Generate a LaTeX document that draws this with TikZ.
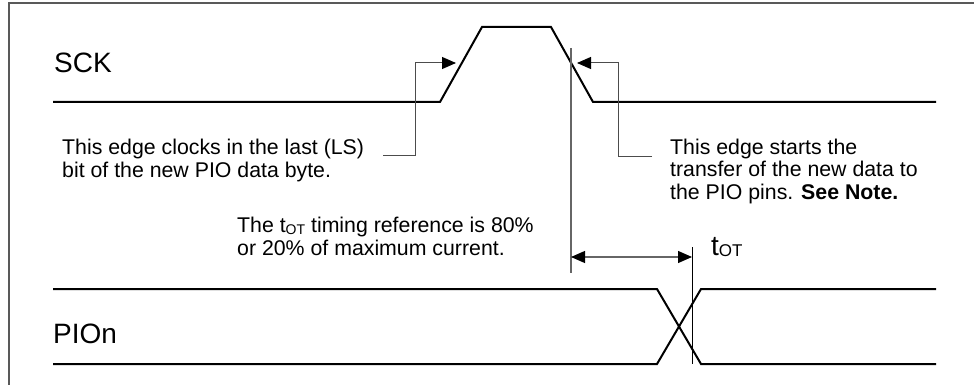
\documentclass[tikz,border=0pt]{standalone}
\usepackage{fontspec}
\setmainfont{Liberation Sans}
\usetikzlibrary{arrows.meta}
\begin{document}
\begin{tikzpicture}[x=1pt,y=-1pt,
  sig/.style={line width=2pt, black, line join=miter},
  lead/.style={line width=1pt, black!70},
  tip/.style={-{Triangle[length=14pt,width=12pt,color=black]}},
  note/.style={font=\fontsize{21.3}{22.3}\selectfont, align=left, inner sep=0pt, anchor=base west},
  lbl/.style={font=\fontsize{28}{30}\selectfont, inner sep=0pt, anchor=base west}]
\useasboundingbox (0,0) rectangle (974,385);
% frame
\coordinate (f0) at (9,386);
\coordinate (f1) at (9,3);
\coordinate (f2) at (975,3);
\draw[line width=1.6pt, black!65] (f0) -- (f1) -- (f2);
% SCK signal
\coordinate (s0) at (53,102);
\coordinate (s1) at (440,102);
\coordinate (s2) at (482,27);
\coordinate (s3) at (551,27);
\coordinate (s4) at (593,102);
\coordinate (s5) at (936,102);
\draw[sig] (s0) -- (s1) -- (s2) -- (s3) -- (s4) -- (s5);
% PIOn signal
\coordinate (p0) at (53,289);
\coordinate (p1) at (657,289);
\coordinate (p2) at (701,364);
\coordinate (p3) at (936,364);
\coordinate (q0) at (53,364);
\coordinate (q1) at (657,364);
\coordinate (q2) at (701,289);
\coordinate (q3) at (936,289);
\draw[sig] (p0) -- (p1) -- (p2) -- (p3);
\draw[sig] (q0) -- (q1) -- (q2) -- (q3);
% labels
\node[lbl] (sck) at (54,73) {SCK};
\node[lbl] (pio) at (53,343) {PIOn};
% notes (anchor = baseline of last line)
\node[note] (nl) at (62,177) {This edge clocks in the last (LS)\\bit of the new PIO data byte.};
\node[note] (nm) at (237,255) {The t\raisebox{-2pt}{\fontsize{14}{14}\selectfont OT} timing reference is 80\%\\or 20\% of maximum current.};
\node[note] (nr) at (670,199) {This edge starts the\\transfer of the new data to\\the PIO pins. \textbf{See Note.}};
\node[lbl] (tot) at (711,255) {t\raisebox{-1.5pt}{\fontsize{17}{17}\selectfont OT}};
% leaders
\coordinate (l0) at (383,155);
\coordinate (l1) at (415,155);
\coordinate (l2) at (415,63);
\coordinate (l3) at (456,63);
\draw[lead, tip] (l0) -- (l1) -- (l2) -- (l3);
\coordinate (r0) at (652,156);
\coordinate (r1) at (618,156);
\coordinate (r2) at (618,63);
\coordinate (r3) at (577,63);
\draw[lead, tip] (r0) -- (r1) -- (r2) -- (r3);
% timing reference
\coordinate (v0) at (571,48);
\coordinate (v1) at (571,273);
\draw[line width=1.2pt, black!60] (v0) -- (v1);
\coordinate (d0) at (571,257);
\coordinate (d1) at (692,257);
\draw[line width=1.2pt, black!60, {Triangle[length=14pt,width=12pt,color=black]}-{Triangle[length=14pt,width=12pt,color=black]}] (d0) -- (d1);
\coordinate (w0) at (692,247);
\coordinate (w1) at (692,364);
\draw[line width=1pt, black] (w0) -- (w1);
\end{tikzpicture}
\end{document}
